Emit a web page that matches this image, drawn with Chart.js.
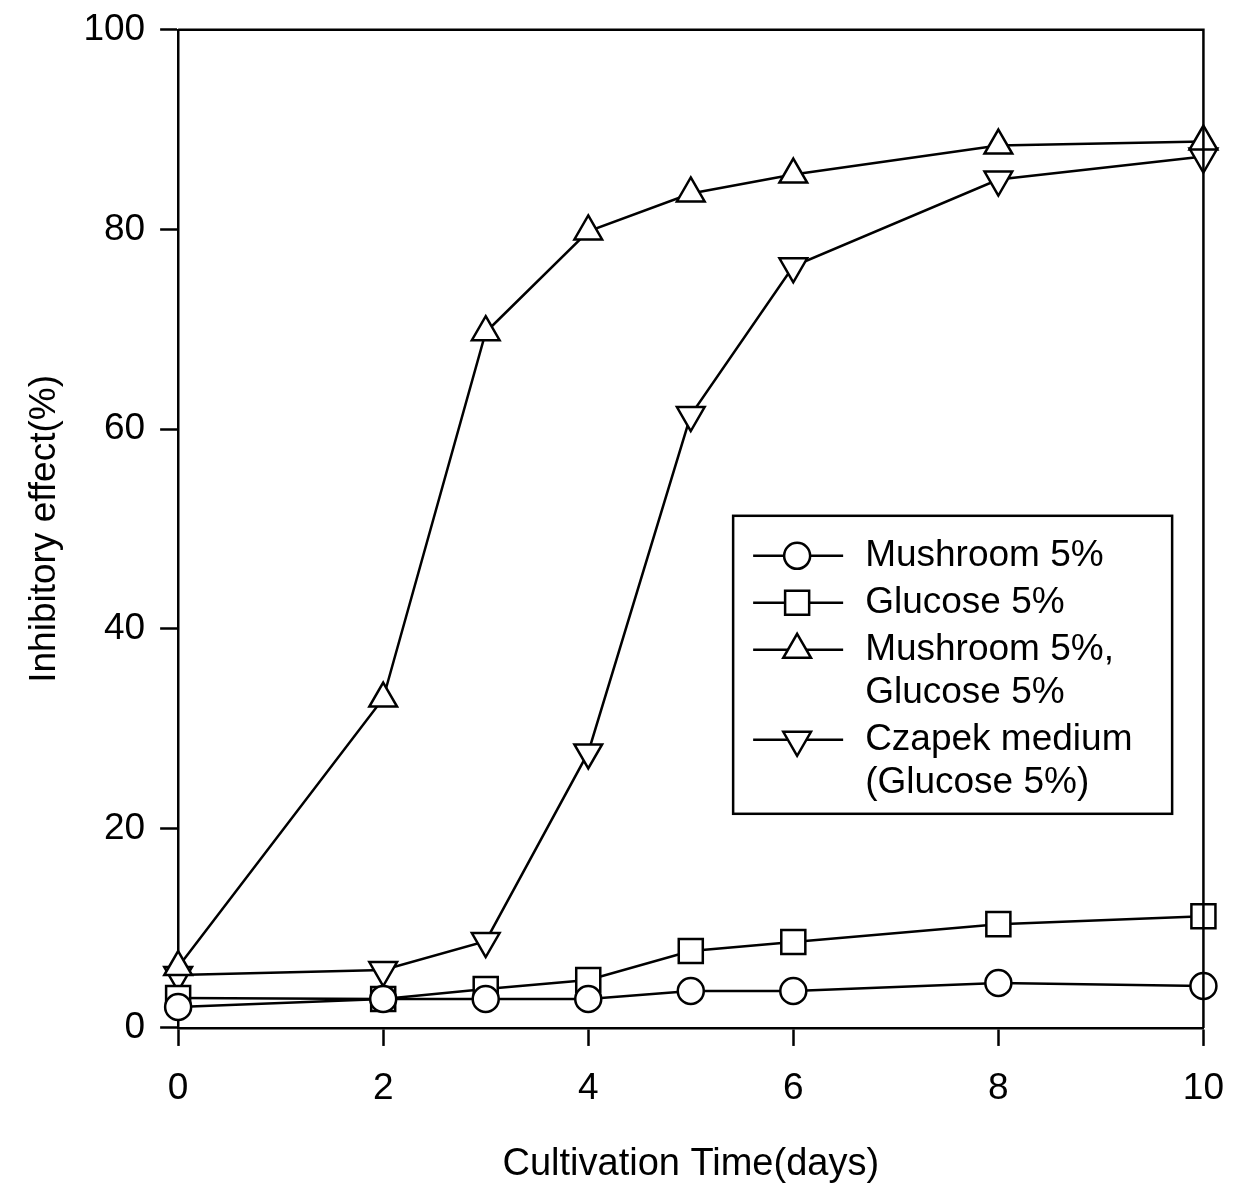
<!DOCTYPE html>
<html>
<head>
<meta charset="utf-8">
<script src="https://cdn.jsdelivr.net/npm/chart.js@4/dist/chart.umd.min.js"></script>
<style>
  html, body { margin: 0; padding: 0; background: #fff; }
  #wrap { width: 1238px; height: 1188px; }
</style>
</head>
<body>
<div id="wrap"><canvas id="chart"></canvas></div>
<script>
// values
const days = [0, 2, 3, 4, 5, 6, 8, 10];
const mushroom = [2.1, 2.9, 2.9, 2.9, 3.7, 3.7, 4.5, 4.2];
const glucose = [3.0, 2.9, 3.9, 4.8, 7.7, 8.6, 10.4, 11.2];
const mushGlucose = [6.1, 33.0, 69.7, 79.8, 83.6, 85.5, 88.4, 88.8];
const czapek = [5.3, 5.8, 8.7, 27.6, 61.4, 76.3, 85.0, 87.3];
const yTicks = [0, 20, 40, 60, 80, 100];
const xTicks = [0, 2, 4, 6, 8, 10];
const legendLabels = [
    ["Mushroom 5%"],
    ["Glucose 5%"],
    ["Mushroom 5%,", "Glucose 5%"],
    ["Czapek medium", "(Glucose 5%)"]
];

const FONT = "'Liberation Sans', Arial, sans-serif";

const pts = vals => days.map((d, i) => ({ x: d, y: vals[i] }));

function series(label, vals, style, radius, rotation) {
    return {
        label: label,
        data: pts(vals),
        borderColor: '#000',
        borderWidth: 2.5,
        tension: 0,
        fill: false,
        pointStyle: style,
        pointRadius: radius,
        pointRotation: rotation || 0,
        pointBorderWidth: 2.5,
        pointBorderColor: '#000',
        pointBackgroundColor: '#fff',
        clip: false
    };
}

// box around the plot
const framePlugin = {
    id: 'frame',
    afterDatasetsDraw(chart) {
        const a = chart.chartArea, ctx = chart.ctx;
        ctx.save();
        ctx.strokeStyle = '#000';
        ctx.lineWidth = 2.5;
        ctx.beginPath();
        ctx.moveTo(a.left, a.top);
        ctx.lineTo(a.right, a.top);
        ctx.lineTo(a.right, a.bottom);
        ctx.stroke();
        ctx.restore();
    }
};

// legend drawn inside the plot, with two-line labels
const boxLegend = {
    id: 'boxLegend',
    afterDraw(chart) {
        const a = chart.chartArea, ctx = chart.ctx;
        const left = a.left + 555, top = a.top + 486;
        const w = 439, h = 298;
        ctx.save();
        ctx.fillStyle = '#fff';
        ctx.fillRect(left, top, w, h);
        ctx.strokeStyle = '#000';
        ctx.lineWidth = 2.5;
        ctx.strokeRect(left, top, w, h);
        ctx.font = '37px ' + FONT;
        ctx.textBaseline = 'middle';
        const lineH = 43;
        let y = top + 40;
        chart.data.datasets.forEach((ds, i) => {
            // sample line + marker
            ctx.strokeStyle = '#000';
            ctx.lineWidth = 2.5;
            ctx.beginPath();
            ctx.moveTo(left + 20, y);
            ctx.lineTo(left + 110, y);
            ctx.stroke();
            ctx.fillStyle = '#fff';
            Chart.helpers.drawPoint(ctx, {
                pointStyle: ds.pointStyle,
                radius: ds.pointRadius,
                rotation: ds.pointRotation,
                borderWidth: 2.5
            }, left + 64, y);
            ctx.fillStyle = '#000';
            legendLabels[i].forEach((t, j) => {
                ctx.fillText(t, left + 132, y + j * lineH);
            });
            y += legendLabels[i].length * lineH + 4;
        });
        ctx.restore();
    }
};

new Chart(document.getElementById('chart'), {
    type: 'line',
    data: {
        datasets: [
            series('Mushroom 5%', mushroom, 'circle', 13),
            series('Glucose 5%', glucose, 'rect', 17),
            series('Mushroom 5%, Glucose 5%', mushGlucose, 'triangle', 16),
            series('Czapek medium (Glucose 5%)', czapek, 'triangle', 16, 180)
        ]
    },
    options: {
        responsive: true,
        maintainAspectRatio: false,
        animation: false,
        layout: { padding: { left: 19, top: 10, right: 10, bottom: 0 } },
        plugins: {
            legend: { display: false },
            tooltip: { enabled: false }
        },
        scales: {
            x: {
                type: 'linear',
                min: 0,
                max: 10,
                afterBuildTicks: axis => { axis.ticks = xTicks.map(v => ({ value: v })); },
                grid: { drawOnChartArea: false, color: '#000', tickLength: 18, tickWidth: 2.5 },
                border: { color: '#000', width: 2.5 },
                ticks: { color: '#000', font: { family: FONT, size: 37, lineHeight: 1.58 }, padding: 14, maxRotation: 0 },
                title: {
                    display: true,
                    text: 'Cultivation Time(days)',
                    color: '#000',
                    font: { family: FONT, size: 38 },
                    padding: { top: 9, bottom: 1 }
                }
            },
            y: {
                min: 0,
                max: 100,
                afterBuildTicks: axis => { axis.ticks = yTicks.map(v => ({ value: v })); },
                grid: { drawOnChartArea: false, color: '#000', tickLength: 18, tickWidth: 2.5 },
                border: { color: '#000', width: 2.5 },
                ticks: { color: '#000', font: { family: FONT, size: 37, lineHeight: 0.8 }, padding: 15 },
                title: {
                    display: true,
                    text: 'Inhibitory effect(%)',
                    color: '#000',
                    font: { family: FONT, size: 37 },
                    padding: { top: 4, bottom: 1 }
                }
            }
        }
    },
    plugins: [framePlugin, boxLegend]
});
</script>
</body>
</html>
